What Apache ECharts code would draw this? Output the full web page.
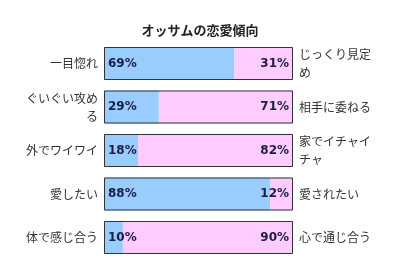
<!DOCTYPE html>
<html><head><meta charset="utf-8">
<script src="https://cdn.jsdelivr.net/npm/echarts@6/dist/echarts.min.js"></script>
<style>html,body{margin:0;padding:0;background:#fff}#c{width:400px;height:268px}</style>
</head><body><div id="c"></div>
<script>
const title = 'オッサムの恋愛傾向';
const leftCategories = ['一目惚れ','ぐいぐい攻める','外でワイワイ','愛したい','体で感じ合う'];
const rightCategories = ['じっくり見定め','相手に委ねる','家でイチャイチャ','愛されたい','心で通じ合う'];
const leftValues = [69,29,18,88,10];
const rightValues = [31,71,82,12,90];
const totals = leftValues.map((v,i)=>v+rightValues[i]);

const cjk = "'Noto Sans CJK JP', 'Noto Sans', sans-serif";
const numFont = "'DejaVu Sans', Verdana, sans-serif";
const chart = echarts.init(document.getElementById('c'), null, {renderer:'canvas'});
const axisLabelBase = {color:'#333', fontSize:12, fontFamily:cjk, width:76, overflow:'break', lineHeight:18, margin:6};
chart.setOption({
  animation:false,
  title:{text:title, left:'center', top:19, textStyle:{fontSize:13, fontWeight:'bold', color:'#222', fontFamily:cjk}},
  grid:{left:104, right:107, top:41.75, bottom:8.75},
  xAxis:[{type:'value', min:0, max:100, show:false}],
  yAxis:[
    {type:'category', data:leftCategories, inverse:true, position:'left', axisLine:{show:false}, axisTick:{show:false}, splitLine:{show:false}, axisLabel:Object.assign({}, axisLabelBase, {align:'right'})},
    {type:'category', data:rightCategories, inverse:true, position:'right', axisLine:{show:false}, axisTick:{show:false}, splitLine:{show:false}, axisLabel:Object.assign({}, axisLabelBase, {align:'left'})}
  ],
  series:[
    {type:'bar', stack:'a', data:leftValues, barWidth:33, barGap:'-100%', itemStyle:{color:'#99ccff'},
     label:{show:true, position:'insideLeft', formatter:'{c}%', fontFamily:numFont, fontWeight:'bold', fontSize:12, color:'#1c1c44', distance:4}},
    {type:'bar', stack:'a', data:rightValues, barWidth:33, barGap:'-100%', itemStyle:{color:'#ffccff'},
     label:{show:true, position:'insideRight', formatter:'{c}%', fontFamily:numFont, fontWeight:'bold', fontSize:12, color:'#1c1c44', distance:4}},
    {type:'bar', stack:'frame', data:totals, barWidth:33, barGap:'-100%', z:5, silent:true,
     itemStyle:{color:'rgba(0,0,0,0)', borderColor:'#333', borderWidth:1}, label:{show:false}}
  ]
});
</script></body></html>
